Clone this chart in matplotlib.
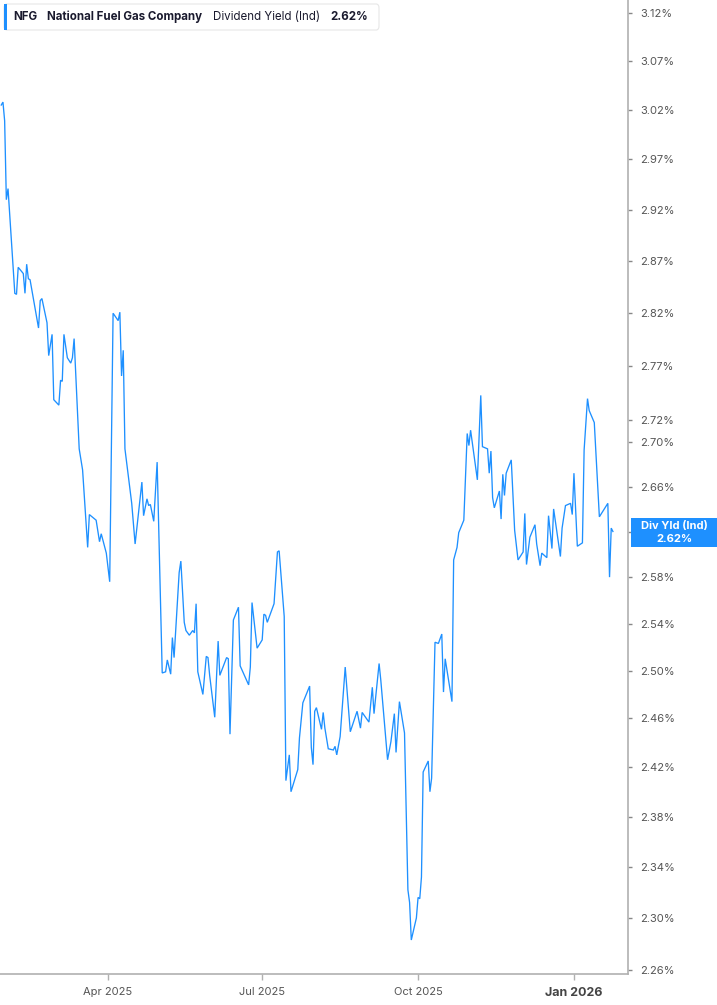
import numpy as np
import pandas as pd
import matplotlib
matplotlib.use("Agg")
import matplotlib.pyplot as plt
import matplotlib.dates as mdates
from matplotlib.patches import FancyBboxPatch, Rectangle
from matplotlib.ticker import FixedLocator, FixedFormatter, NullLocator

plt.rcParams['font.family'] = ['Inter', 'DejaVu Sans']

# NFG indicated dividend yield (%)
dates = [
    "2025-01-28", "2025-01-29", "2025-01-30", "2025-01-31", "2025-02-01",
    "2025-02-05", "2025-02-06", "2025-02-07", "2025-02-10", "2025-02-11",
    "2025-02-12", "2025-02-13", "2025-02-14", "2025-02-19", "2025-02-20",
    "2025-02-21", "2025-02-24", "2025-02-25", "2025-02-27", "2025-02-28",
    "2025-03-03", "2025-03-04", "2025-03-05", "2025-03-06", "2025-03-08",
    "2025-03-10", "2025-03-11", "2025-03-12", "2025-03-15", "2025-03-17",
    "2025-03-20", "2025-03-21", "2025-03-25", "2025-03-27", "2025-03-28",
    "2025-03-31", "2025-04-02", "2025-04-04", "2025-04-07", "2025-04-08",
    "2025-04-09", "2025-04-10", "2025-04-11", "2025-04-15", "2025-04-17",
    "2025-04-21", "2025-04-22", "2025-04-24", "2025-04-25", "2025-04-26",
    "2025-04-28", "2025-04-30", "2025-05-03", "2025-05-05", "2025-05-06",
    "2025-05-08", "2025-05-09", "2025-05-10", "2025-05-13", "2025-05-14",
    "2025-05-16", "2025-05-17", "2025-05-19", "2025-05-21", "2025-05-22",
    "2025-05-23", "2025-05-24", "2025-05-27", "2025-05-29", "2025-05-30",
    "2025-05-31", "2025-06-03", "2025-06-05", "2025-06-06", "2025-06-10",
    "2025-06-11", "2025-06-12", "2025-06-14", "2025-06-17", "2025-06-18",
    "2025-06-23", "2025-06-24", "2025-06-25", "2025-06-28", "2025-07-01",
    "2025-07-02", "2025-07-03", "2025-07-04", "2025-07-08", "2025-07-10",
    "2025-07-11", "2025-07-14", "2025-07-15", "2025-07-17", "2025-07-18",
    "2025-07-22", "2025-07-23", "2025-07-25", "2025-07-29", "2025-07-30",
    "2025-07-31", "2025-08-01", "2025-08-02", "2025-08-05", "2025-08-06",
    "2025-08-07", "2025-08-09", "2025-08-12", "2025-08-13", "2025-08-14",
    "2025-08-16", "2025-08-19", "2025-08-22", "2025-08-26", "2025-08-28",
    "2025-08-29", "2025-09-02", "2025-09-04", "2025-09-05", "2025-09-08",
    "2025-09-09", "2025-09-12", "2025-09-13", "2025-09-15", "2025-09-17",
    "2025-09-18", "2025-09-20", "2025-09-23", "2025-09-25", "2025-09-26",
    "2025-09-27", "2025-09-30", "2025-10-01", "2025-10-02", "2025-10-03",
    "2025-10-04", "2025-10-07", "2025-10-08", "2025-10-09", "2025-10-11",
    "2025-10-13", "2025-10-15", "2025-10-16", "2025-10-17", "2025-10-21",
    "2025-10-22", "2025-10-24", "2025-10-25", "2025-10-28", "2025-10-30",
    "2025-10-31", "2025-11-01", "2025-11-05", "2025-11-07", "2025-11-08",
    "2025-11-11", "2025-11-12", "2025-11-13", "2025-11-14", "2025-11-15",
    "2025-11-18", "2025-11-19", "2025-11-20", "2025-11-21", "2025-11-22",
    "2025-11-25", "2025-11-27", "2025-11-29", "2025-12-02", "2025-12-03",
    "2025-12-04", "2025-12-06", "2025-12-09", "2025-12-10", "2025-12-12",
    "2025-12-13", "2025-12-16", "2025-12-17", "2025-12-19", "2025-12-20",
    "2025-12-24", "2025-12-25", "2025-12-27", "2025-12-30", "2025-12-31",
    "2026-01-01", "2026-01-03", "2026-01-06", "2026-01-07", "2026-01-09",
    "2026-01-10", "2026-01-13", "2026-01-16", "2026-01-21", "2026-01-22",
    "2026-01-23", "2026-01-24",
]
yields = [
    3.025, 3.028, 3.009, 2.930, 2.941,
    2.839, 2.838, 2.864, 2.858, 2.839,
    2.867, 2.853, 2.852, 2.806, 2.832,
    2.834, 2.811, 2.780, 2.800, 2.739,
    2.734, 2.757, 2.756, 2.800, 2.778,
    2.773, 2.778, 2.796, 2.694, 2.675,
    2.606, 2.635, 2.630, 2.611, 2.618,
    2.601, 2.576, 2.820, 2.813, 2.821,
    2.761, 2.785, 2.694, 2.645, 2.609,
    2.664, 2.634, 2.649, 2.643, 2.644,
    2.629, 2.682, 2.498, 2.499, 2.509,
    2.497, 2.528, 2.511, 2.584, 2.594,
    2.541, 2.534, 2.530, 2.534, 2.532,
    2.557, 2.499, 2.480, 2.512, 2.511,
    2.496, 2.461, 2.525, 2.496, 2.511,
    2.510, 2.447, 2.543, 2.554, 2.504,
    2.488, 2.503, 2.558, 2.519, 2.526,
    2.548, 2.547, 2.541, 2.557, 2.602,
    2.603, 2.546, 2.409, 2.430, 2.400,
    2.418, 2.444, 2.473, 2.487, 2.436,
    2.422, 2.466, 2.469, 2.451, 2.465,
    2.452, 2.435, 2.434, 2.437, 2.430,
    2.445, 2.503, 2.449, 2.466, 2.452,
    2.465, 2.457, 2.486, 2.464, 2.506,
    2.492, 2.442, 2.426, 2.441, 2.464,
    2.432, 2.474, 2.448, 2.322, 2.312,
    2.283, 2.300, 2.316, 2.315, 2.332,
    2.416, 2.425, 2.400, 2.411, 2.524,
    2.523, 2.531, 2.482, 2.510, 2.474,
    2.595, 2.606, 2.619, 2.630, 2.708,
    2.697, 2.711, 2.666, 2.743, 2.696,
    2.694, 2.672, 2.692, 2.650, 2.641,
    2.656, 2.631, 2.671, 2.652, 2.672,
    2.684, 2.621, 2.595, 2.602, 2.636,
    2.591, 2.615, 2.626, 2.609, 2.590,
    2.601, 2.597, 2.634, 2.605, 2.640,
    2.598, 2.623, 2.643, 2.645, 2.635,
    2.672, 2.607, 2.610, 2.693, 2.740,
    2.729, 2.718, 2.633, 2.645, 2.580,
    2.623, 2.620,
]

ytick_vals = [3.12, 3.07, 3.02, 2.97, 2.92, 2.87, 2.82, 2.77, 2.72, 2.70,
              2.66, 2.62, 2.58, 2.54, 2.50, 2.46, 2.42, 2.38, 2.34, 2.30, 2.26]
xtick_dates = ["2025-04-01", "2025-07-01", "2025-10-01", "2026-01-01"]
xtick_labels = ["Apr 2025", "Jul 2025", "Oct 2025", "Jan 2026"]

ticker = "NFG"
company = "National Fuel Gas Company"
metric = "Dividend Yield (Ind)"
last_value = 2.62
last_label = f"{last_value:.2f}%"

W, H = 717, 1005
blue = "#1E90FF"
axis_gray = "#b0b0b0"
text_gray = "#555555"

fig = plt.figure(figsize=(W / 100, H / 100), dpi=100)
ax = fig.add_axes([0, 31 / H, 628 / W, 974 / H])

x = pd.to_datetime(dates)
ax.plot(x, yields, color=blue, lw=0.95, solid_joinstyle="miter")

ax.set_yscale("log")
ax.set_ylim(2.257, 3.134)
apr1 = mdates.date2num(pd.Timestamp("2025-04-01"))
ax.set_xlim(apr1 - 63.74, apr1 + 306.9)

for s in ["left", "top"]:
    ax.spines[s].set_visible(False)
for s in ["right", "bottom"]:
    ax.spines[s].set_color(axis_gray)
    ax.spines[s].set_linewidth(1.2)

# the 2.62% tick label sits under the last-value box, so it is left blank
ylabels = ["" if v == last_value else f"{v:.2f}%" for v in ytick_vals]
ax.yaxis.tick_right()
ax.yaxis.set_major_locator(FixedLocator(ytick_vals))
ax.yaxis.set_major_formatter(FixedFormatter(ylabels))
ax.yaxis.set_minor_locator(NullLocator())
ax.tick_params(axis="y", direction="out", length=3, width=1, color="#888888",
               labelsize=8, labelcolor=text_gray, pad=6)

ax.set_xticks(mdates.date2num(pd.to_datetime(xtick_dates)))
ax.set_xticklabels(xtick_labels)
ax.tick_params(axis="x", direction="out", length=4, width=1, color=axis_gray,
               labelsize=8, labelcolor=text_gray, pad=5)
jan = ax.get_xticklabels()[-1]
jan.set_fontweight("bold")
jan.set_fontsize(9)
jan.set_color("#444444")

def fx(px):
    return px / W

def fy(py):
    return 1 - py / H

# header box
hdr = FancyBboxPatch((fx(4), fy(30)), fx(375), 26 / H,
                     boxstyle="round,pad=0,rounding_size=0.004",
                     transform=fig.transFigure, facecolor="white",
                     edgecolor="#e6e6e6", lw=0.8, zorder=5)
fig.patches.append(hdr)
fig.patches.append(Rectangle((fx(4), fy(30)), fx(3), 26 / H, transform=fig.transFigure,
                             facecolor=blue, edgecolor="none", zorder=6))
hy = fy(17)
hfont = 8.3
fig.text(fx(13), hy, ticker, fontsize=hfont, fontweight="bold", color="#1a1a2e", va="center", zorder=7)
fig.text(fx(47), hy, company, fontsize=hfont, fontweight="bold", color="#1a1a2e", va="center", zorder=7)
fig.text(fx(213), hy, metric, fontsize=hfont, color="#1a1a2e", va="center", zorder=7)
fig.text(fx(330), hy, last_label, fontsize=hfont, fontweight="bold", color="#1a1a2e", va="center", zorder=7)

# last value label on the right axis
fig.patches.append(Rectangle((fx(631), fy(547)), fx(86), 29 / H, transform=fig.transFigure,
                             facecolor=blue, edgecolor="none", zorder=8))
fig.text(fx(674), fy(526), "Div Yld (Ind)", fontsize=8, fontweight="bold", color="white",
         ha="center", va="center", zorder=9)
fig.text(fx(674), fy(539), last_label, fontsize=8, fontweight="bold", color="white",
         ha="center", va="center", zorder=9)

fig.savefig("out.png", dpi=100)
